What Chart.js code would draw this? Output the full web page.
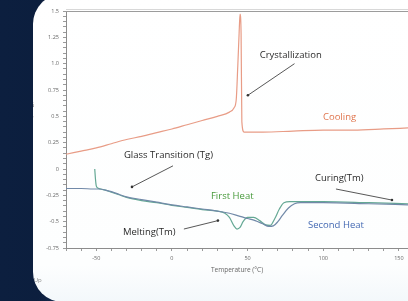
<!DOCTYPE html>
<html>
<head>
<meta charset="utf-8">
<script src="https://cdn.jsdelivr.net/npm/chart.js@4.4.0/dist/chart.umd.min.js"></script>
<style>
  html, body { margin: 0; padding: 0; width: 408px; height: 301px; overflow: hidden; }
  body {
    background:
      linear-gradient(125deg, rgba(60,100,160,0) 40%, rgba(70,110,170,0.35) 48%, rgba(60,100,160,0) 56%),
      linear-gradient(90deg, #0c1f3f 0%, #0a1833 100%);
  }
  #panel {
    position: absolute; left: 33px; top: -6px; width: 420px; height: 308px;
    border-radius: 30px; overflow: hidden;
    background: linear-gradient(180deg, #ffffff 0%, #fdfefe 88%, #f3f8fb 100%);
  }
  #wrap { position: absolute; left: -33px; top: 6px; width: 408px; height: 301px; }
</style>
</head>
<body>
<div id="panel"><div id="wrap"><canvas id="c" width="408" height="301"></canvas></div></div>
<script>
// DSC curves: heat flow vs temperature
const coolingT = [-70, -60, -50, -40, -30, -20, -10, 0, 10, 20, 30, 38, 41, 42.5, 43.5, 44.4, 45.0, 45.7, 46.2, 47.7, 60, 80, 100, 120, 140, 156];
const coolingHF = [0.14, 0.17, 0.20, 0.24, 0.28, 0.31, 0.345, 0.38, 0.42, 0.46, 0.50, 0.54, 0.58, 0.66, 0.97, 1.29, 1.47, 1.29, 0.45, 0.35, 0.35, 0.36, 0.37, 0.37, 0.38, 0.39];

const firstT = [-51, -50.5, -50, -49, -47, -44, -40, -35, -30, -20, -10, 0, 10, 20, 30, 35, 38, 41, 43, 45, 47, 50, 54, 58, 62, 65, 68, 71, 74, 78, 100, 130, 156];
const firstHF = [0.0, -0.10, -0.16, -0.18, -0.19, -0.20, -0.22, -0.245, -0.27, -0.30, -0.32, -0.345, -0.365, -0.385, -0.40, -0.42, -0.46, -0.54, -0.57, -0.555, -0.50, -0.46, -0.46, -0.49, -0.53, -0.535, -0.47, -0.38, -0.32, -0.31, -0.31, -0.32, -0.33];

const secondT = [-70, -60, -52, -48, -44, -40, -35, -30, -20, -10, 0, 10, 20, 30, 38, 45, 50, 55, 60, 64, 67, 70, 73, 77, 81, 85, 100, 130, 156];
const secondHF = [-0.185, -0.185, -0.19, -0.19, -0.20, -0.215, -0.24, -0.265, -0.29, -0.315, -0.34, -0.36, -0.38, -0.40, -0.42, -0.45, -0.47, -0.49, -0.52, -0.545, -0.54, -0.50, -0.44, -0.37, -0.33, -0.32, -0.32, -0.33, -0.34];

const yTickValues = [-0.75, -0.5, -0.25, 0, 0.25, 0.5, 0.75, 1.0, 1.25, 1.5];
const yTickLabels = ['-0.75', '-0.5', '-0.25', '0', '0.25', '0.5', '0.75', '1.0', '1.25', '1.5'];
const xTickValues = [-50, 0, 50, 100, 150];
const xTickLabels = ['-50', '0', '50', '100', '150'];

const toPoints = (xs, ys) => xs.map((x, i) => ({ x: x, y: ys[i] }));

const tickFont = { family: 'Open Sans', size: 5.5 };

// text labels with pointer lines, placed in data units
const notes = [
  { text: 'Crystallization', x: 58, y: 1.08, color: '#2a2a2a', from: [81, 1.0], to: [50.2, 0.70] },
  { text: 'Cooling', x: 99.8, y: 0.49, color: '#e0764f' },
  { text: 'Glass Transition (Tg)', x: -31.7, y: 0.13, color: '#2a2a2a', from: [0.7, 0.03], to: [-26.4, -0.17] },
  { text: 'First Heat', x: 25.8, y: -0.26, color: '#46993a' },
  { text: 'Curing(Tm)', x: 94.5, y: -0.085, color: '#2a2a2a', from: [108.4, -0.19], to: [145.4, -0.295] },
  { text: 'Second Heat', x: 89.9, y: -0.53, color: '#4368b2' },
  { text: 'Melting(Tm)', x: -32.4, y: -0.60, color: '#2a2a2a', from: [7.9, -0.57], to: [30.4, -0.49] }
];

const notesPlugin = {
  id: 'notes',
  afterDatasetsDraw(chart) {
    const { ctx, chartArea, scales: { x, y } } = chart;
    ctx.save();
    // top frame line
    ctx.strokeStyle = '#9c9c9c';
    ctx.lineWidth = 1;
    ctx.beginPath();
    ctx.moveTo(chartArea.left, chartArea.top + 0.5);
    ctx.lineTo(chartArea.right, chartArea.top + 0.5);
    ctx.stroke();
    ctx.strokeStyle = '#d8d8d8';
    ctx.beginPath();
    ctx.moveTo(chartArea.left, chartArea.top - 1.5);
    ctx.lineTo(chartArea.right, chartArea.top - 1.5);
    ctx.stroke();

    ctx.font = '9.5px "Open Sans"';
    ctx.textBaseline = 'middle';
    ctx.textAlign = 'left';
    notes.forEach(n => {
      ctx.fillStyle = n.color;
      ctx.fillText(n.text, x.getPixelForValue(n.x), y.getPixelForValue(n.y));
      if (n.from) {
        const x1 = x.getPixelForValue(n.from[0]), y1 = y.getPixelForValue(n.from[1]);
        const x2 = x.getPixelForValue(n.to[0]), y2 = y.getPixelForValue(n.to[1]);
        ctx.strokeStyle = '#444';
        ctx.lineWidth = 0.9;
        ctx.beginPath();
        ctx.moveTo(x1, y1);
        ctx.lineTo(x2, y2);
        ctx.stroke();
        ctx.fillStyle = '#333';
        ctx.beginPath();
        ctx.arc(x2, y2, 1.3, 0, Math.PI * 2);
        ctx.fill();
      }
    });

    // y axis title, mostly hidden behind the panel edge
    ctx.save();
    ctx.translate(30, y.getPixelForValue(0.4));
    ctx.rotate(-Math.PI / 2);
    ctx.textAlign = 'center';
    ctx.fillStyle = '#777';
    ctx.font = '7px "Open Sans"';
    ctx.fillText('Heat Flow (W/g)', 0, 0);
    ctx.restore();
    ctx.fillStyle = '#888';
    ctx.font = '6px "Open Sans"';
    ctx.fillText('Exo Up', 22, 280);
    ctx.restore();
  }
};

const near = (a, b) => Math.abs(a - b) < 1e-6;

new Chart(document.getElementById('c'), {
  type: 'line',
  data: {
    datasets: [
      { label: 'Cooling', data: toPoints(coolingT, coolingHF), borderColor: '#e89c86', borderWidth: 1.2 },
      { label: 'Second Heat', data: toPoints(secondT, secondHF), borderColor: '#7189a8', borderWidth: 1.2 },
      { label: 'First Heat', data: toPoints(firstT, firstHF), borderColor: '#64a894', borderWidth: 1.2 }
    ]
  },
  options: {
    responsive: false,
    animation: false,
    devicePixelRatio: 1,
    elements: { point: { radius: 0 }, line: { cubicInterpolationMode: 'monotone', fill: false } },
    layout: { padding: { left: 25, right: 0, top: 11, bottom: 23 } },
    plugins: { legend: { display: false }, tooltip: { enabled: false } },
    scales: {
      x: {
        type: 'linear',
        min: -70,
        max: 156,
        // minor ticks every 10 degrees, labels every 50
        afterBuildTicks: s => {
          const t = [];
          for (let v = -70; v <= 150; v += 10) t.push({ value: v });
          s.ticks = t;
        },
        afterFit: s => { s.height = 30; },
        ticks: {
          autoSkip: false,
          maxRotation: 0,
          font: tickFont,
          color: '#666',
          padding: 4,
          callback: v => {
            const i = xTickValues.findIndex(m => near(m, v));
            return i >= 0 ? xTickLabels[i] : '';
          }
        },
        grid: { drawOnChartArea: false, tickLength: 3, color: '#9a9a9a' },
        border: { color: '#8c8c8c', width: 1 },
        title: { display: true, text: 'Temperature (°C)', font: { family: 'Open Sans', size: 6.5 }, color: '#666', padding: { top: 2, bottom: 4 } }
      },
      y: {
        min: -0.75,
        max: 1.5,
        afterBuildTicks: s => {
          const t = [];
          for (let i = 0; i <= 45; i++) t.push({ value: Math.round((-0.75 + i * 0.05) * 100) / 100 });
          s.ticks = t;
        },
        afterFit: s => { s.width = 41; },
        ticks: {
          autoSkip: false,
          font: tickFont,
          color: '#666',
          padding: 4,
          callback: v => {
            const i = yTickValues.findIndex(m => near(m, v));
            return i >= 0 ? yTickLabels[i] : '';
          }
        },
        grid: { drawOnChartArea: false, tickLength: 3, color: '#9a9a9a' },
        border: { color: '#8c8c8c', width: 1 }
      }
    }
  },
  plugins: [notesPlugin]
});
</script>
</body>
</html>
